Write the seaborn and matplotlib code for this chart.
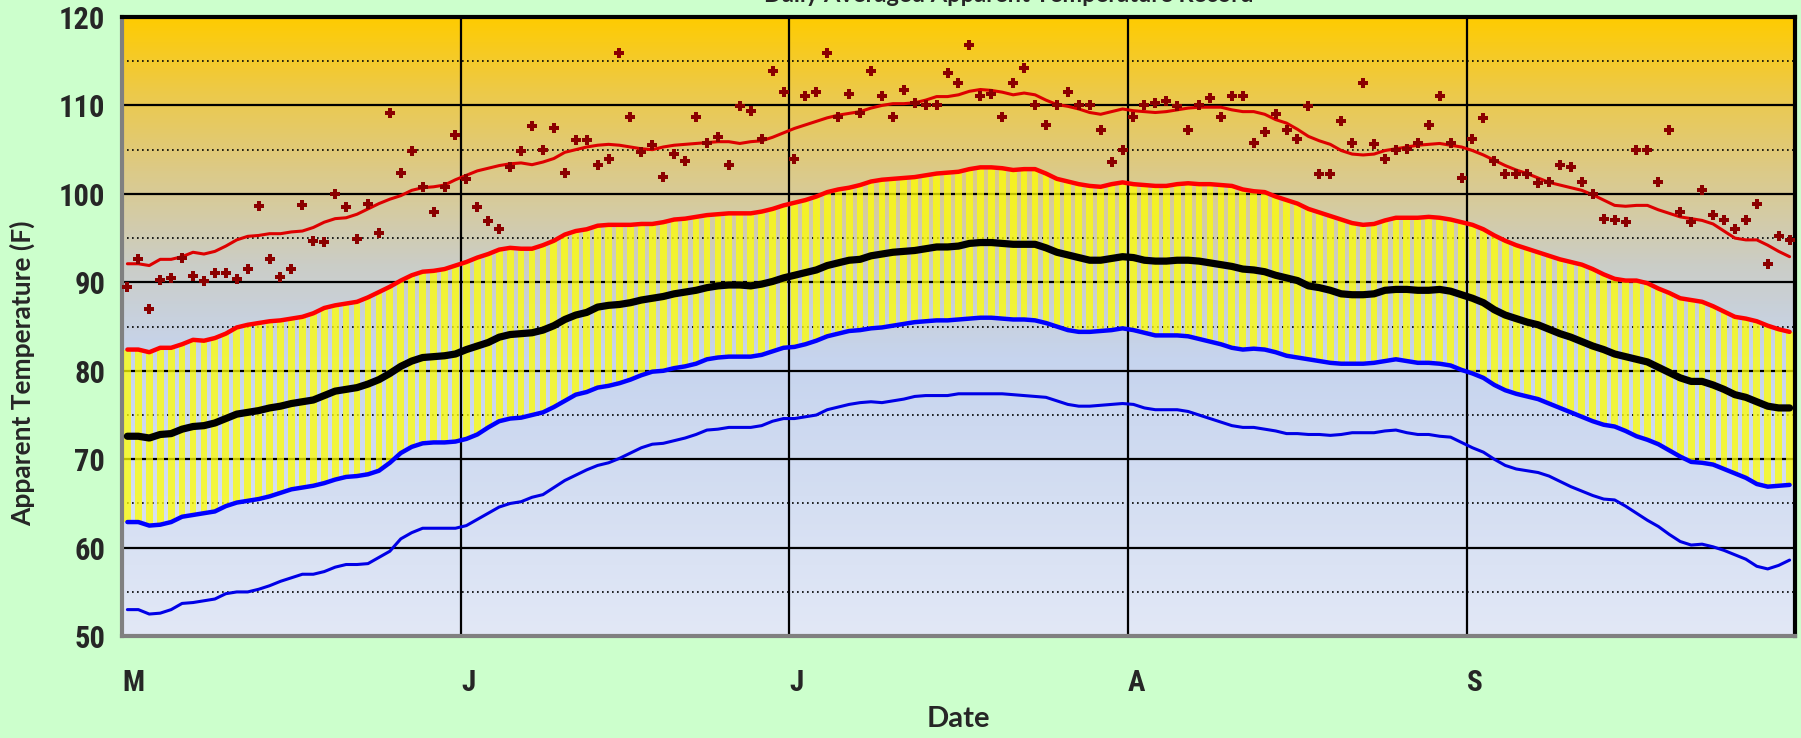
import numpy as np
import pandas as pd
import seaborn as sns
import matplotlib.pyplot as plt
from matplotlib import font_manager
from matplotlib.colors import LinearSegmentedColormap
from matplotlib.ticker import MultipleLocator

# daily values, 1 May .. 30 Sep (153 days)
avg_high = [82.4, 82.4, 82.1, 82.6, 82.6, 83.0, 83.5, 83.4, 83.7, 84.2, 84.9, 85.2, 85.4, 85.6, 85.7, 85.9, 86.1, 86.5, 87.1, 87.4,
            87.6, 87.8, 88.3, 88.9, 89.5, 90.2, 90.8, 91.2, 91.3, 91.5, 91.9, 92.3, 92.8, 93.2, 93.7, 93.9, 93.8, 93.8, 94.2, 94.7,
            95.4, 95.8, 96.0, 96.4, 96.5, 96.5, 96.5, 96.6, 96.6, 96.8, 97.1, 97.2, 97.4, 97.6, 97.7, 97.8, 97.8, 97.8, 98.0, 98.3,
            98.7, 99.0, 99.3, 99.7, 100.2, 100.5, 100.7, 101.0, 101.4, 101.6, 101.7, 101.8, 101.9, 102.1, 102.3, 102.4, 102.5, 102.8, 103.0, 103.0,
            102.9, 102.7, 102.8, 102.8, 102.3, 101.7, 101.4, 101.1, 100.9, 100.8, 101.1, 101.3, 101.1, 101.0, 100.9, 100.9, 101.1, 101.2, 101.1, 101.1,
            101.0, 100.9, 100.5, 100.3, 100.2, 99.7, 99.3, 98.9, 98.3, 97.9, 97.5, 97.1, 96.7, 96.5, 96.6, 97.0, 97.3, 97.3, 97.3, 97.4,
            97.3, 97.1, 96.8, 96.5, 96.0, 95.3, 94.7, 94.2, 93.8, 93.4, 93.0, 92.6, 92.3, 92.0, 91.5, 90.9, 90.4, 90.2, 90.2, 89.9,
            89.3, 88.8, 88.2, 88.0, 87.8, 87.3, 86.7, 86.1, 85.9, 85.6, 85.1, 84.7, 84.4]
avg_mean = [72.6, 72.6, 72.4, 72.8, 72.9, 73.4, 73.7, 73.8, 74.1, 74.6, 75.1, 75.3, 75.5, 75.8, 76.0, 76.3, 76.5, 76.7, 77.2, 77.7,
            77.9, 78.1, 78.5, 79.0, 79.7, 80.5, 81.1, 81.5, 81.6, 81.7, 81.9, 82.4, 82.8, 83.2, 83.8, 84.1, 84.2, 84.3, 84.6, 85.1,
            85.8, 86.3, 86.6, 87.2, 87.4, 87.5, 87.7, 88.0, 88.2, 88.4, 88.7, 88.9, 89.1, 89.4, 89.6, 89.7, 89.7, 89.6, 89.8, 90.1,
            90.5, 90.8, 91.1, 91.4, 91.9, 92.2, 92.5, 92.6, 93.0, 93.2, 93.4, 93.5, 93.6, 93.8, 94.0, 94.0, 94.1, 94.4, 94.5, 94.5,
            94.4, 94.3, 94.3, 94.3, 93.9, 93.4, 93.1, 92.8, 92.5, 92.5, 92.7, 92.9, 92.8, 92.5, 92.4, 92.4, 92.5, 92.5, 92.4, 92.2,
            92.0, 91.8, 91.5, 91.4, 91.2, 90.8, 90.5, 90.2, 89.6, 89.4, 89.1, 88.7, 88.6, 88.6, 88.7, 89.1, 89.2, 89.2, 89.1, 89.1,
            89.2, 89.0, 88.6, 88.2, 87.7, 86.9, 86.3, 85.9, 85.5, 85.2, 84.7, 84.2, 83.8, 83.3, 82.8, 82.4, 81.9, 81.6, 81.3, 81.0,
            80.4, 79.8, 79.2, 78.8, 78.8, 78.4, 77.9, 77.3, 77.0, 76.5, 76.0, 75.8, 75.8]
avg_low = [62.9, 62.9, 62.5, 62.6, 62.9, 63.5, 63.7, 63.9, 64.1, 64.7, 65.1, 65.3, 65.5, 65.8, 66.2, 66.6, 66.8, 67.0, 67.3, 67.7,
           68.0, 68.1, 68.3, 68.7, 69.6, 70.7, 71.4, 71.8, 71.9, 71.9, 72.0, 72.3, 72.8, 73.6, 74.3, 74.6, 74.7, 75.0, 75.3, 75.9,
           76.6, 77.3, 77.6, 78.1, 78.3, 78.6, 79.0, 79.5, 79.9, 80.0, 80.3, 80.5, 80.8, 81.3, 81.5, 81.6, 81.6, 81.6, 81.8, 82.2,
           82.6, 82.7, 83.0, 83.4, 83.9, 84.2, 84.5, 84.6, 84.8, 84.9, 85.1, 85.3, 85.5, 85.6, 85.7, 85.7, 85.8, 85.9, 86.0, 86.0,
           85.9, 85.8, 85.8, 85.7, 85.4, 85.0, 84.6, 84.4, 84.4, 84.5, 84.6, 84.8, 84.6, 84.3, 84.0, 84.0, 84.0, 83.9, 83.6, 83.3,
           83.0, 82.6, 82.4, 82.5, 82.4, 82.1, 81.7, 81.5, 81.3, 81.1, 80.9, 80.8, 80.8, 80.8, 80.9, 81.1, 81.3, 81.1, 80.9, 80.9,
           80.8, 80.6, 80.1, 79.7, 79.2, 78.4, 77.8, 77.4, 77.1, 76.8, 76.3, 75.8, 75.3, 74.8, 74.3, 73.9, 73.7, 73.2, 72.6, 72.2,
           71.7, 71.0, 70.3, 69.7, 69.6, 69.4, 68.9, 68.4, 67.9, 67.2, 66.9, 67.0, 67.1]
min_low = [53.0, 53.0, 52.5, 52.6, 53.0, 53.7, 53.8, 54.0, 54.2, 54.8, 55.0, 55.0, 55.3, 55.7, 56.2, 56.6, 57.0, 57.0, 57.3, 57.8,
           58.1, 58.1, 58.2, 58.9, 59.6, 61.0, 61.7, 62.2, 62.2, 62.2, 62.2, 62.5, 63.2, 63.9, 64.6, 65.0, 65.2, 65.7, 66.0, 66.8,
           67.6, 68.2, 68.8, 69.3, 69.6, 70.1, 70.7, 71.3, 71.7, 71.8, 72.1, 72.4, 72.8, 73.3, 73.4, 73.6, 73.6, 73.6, 73.8, 74.3,
           74.6, 74.6, 74.8, 75.0, 75.6, 75.9, 76.2, 76.4, 76.5, 76.4, 76.6, 76.8, 77.1, 77.2, 77.2, 77.2, 77.4, 77.4, 77.4, 77.4,
           77.4, 77.3, 77.2, 77.1, 77.0, 76.6, 76.2, 76.0, 76.0, 76.1, 76.2, 76.3, 76.2, 75.8, 75.6, 75.6, 75.6, 75.4, 75.0, 74.6,
           74.2, 73.8, 73.6, 73.6, 73.4, 73.2, 72.9, 72.9, 72.8, 72.8, 72.7, 72.8, 73.0, 73.0, 73.0, 73.2, 73.3, 73.0, 72.8, 72.8,
           72.6, 72.5, 71.9, 71.3, 70.8, 70.0, 69.3, 68.9, 68.7, 68.5, 68.1, 67.5, 66.9, 66.4, 65.9, 65.5, 65.4, 64.7, 63.9, 63.1,
           62.4, 61.5, 60.7, 60.3, 60.4, 60.1, 59.7, 59.2, 58.7, 57.9, 57.6, 58.0, 58.6]
max_high = [92.1, 92.1, 91.9, 92.6, 92.6, 92.9, 93.4, 93.2, 93.5, 94.1, 94.8, 95.2, 95.3, 95.5, 95.5, 95.7, 95.8, 96.2, 96.8, 97.2,
            97.3, 97.7, 98.3, 98.9, 99.4, 99.8, 100.4, 100.7, 100.8, 101.0, 101.6, 102.1, 102.6, 102.9, 103.2, 103.4, 103.5, 103.3, 103.6, 104.0,
            104.7, 105.0, 105.3, 105.5, 105.6, 105.5, 105.3, 105.1, 105.0, 105.3, 105.5, 105.6, 105.7, 105.8, 105.9, 105.9, 105.7, 105.9, 106.0, 106.4,
            106.9, 107.4, 107.8, 108.2, 108.6, 108.9, 109.1, 109.3, 109.7, 110.0, 110.2, 110.2, 110.3, 110.6, 111.0, 111.0, 111.2, 111.6, 111.8, 111.7,
            111.5, 111.2, 111.4, 111.2, 110.6, 110.1, 109.9, 109.6, 109.2, 109.0, 109.3, 109.6, 109.4, 109.3, 109.2, 109.3, 109.5, 109.7, 109.8, 109.8,
            109.8, 109.5, 109.3, 109.3, 109.0, 108.4, 108.0, 107.3, 106.5, 106.0, 105.6, 104.9, 104.5, 104.4, 104.5, 104.9, 105.1, 105.3, 105.5, 105.6,
            105.7, 105.5, 105.3, 104.9, 104.4, 103.8, 103.2, 102.7, 102.3, 101.8, 101.3, 101.0, 100.7, 100.4, 99.9, 99.3, 98.7, 98.6, 98.7, 98.7,
            98.2, 97.8, 97.4, 97.2, 97.0, 96.6, 95.8, 95.0, 94.8, 94.8, 94.2, 93.5, 92.9]
record_high = [89.5, 92.6, 87.0, 90.3, 90.5, 92.8, 90.7, 90.2, 91.1, 91.1, 90.4, 91.5, 98.6, 92.6, 90.6, 91.5, 98.7, 94.7, 94.6, 100.0,
               98.5, 94.9, 98.8, 95.6, 109.1, 102.4, 104.8, 100.8, 97.9, 100.8, 106.7, 101.7, 98.5, 96.9, 96.0, 103.0, 104.8, 107.7, 105.0, 107.5,
               102.4, 106.1, 106.1, 103.3, 104.0, 115.9, 108.7, 104.7, 105.5, 101.9, 104.5, 103.7, 108.7, 105.7, 106.4, 103.3, 109.9, 109.4, 106.2, 113.9,
               111.5, 103.9, 111.1, 111.5, 115.9, 108.7, 111.3, 109.1, 113.9, 111.1, 108.7, 111.7, 110.3, 110.1, 110.1, 113.7, 112.5, 116.8, 111.1, 111.3,
               108.7, 112.5, 114.2, 110.1, 107.8, 110.0, 111.5, 110.1, 110.1, 107.2, 103.6, 105.0, 108.7, 110.0, 110.3, 110.5, 109.9, 107.2, 110.0, 110.8,
               108.7, 111.1, 111.1, 105.7, 107.0, 109.0, 107.2, 106.2, 109.9, 102.3, 102.3, 108.2, 105.8, 112.5, 105.6, 104.0, 105.0, 105.1, 105.8, 107.8,
               111.1, 105.8, 101.8, 106.2, 108.6, 103.7, 102.3, 102.3, 102.2, 101.2, 101.3, 103.3, 103.0, 101.3, 100.0, 97.2, 97.1, 96.8, 105.0, 105.0,
               101.3, 107.2, 97.9, 96.8, 100.4, 97.6, 97.0, 96.0, 97.0, 98.8, 92.1, 95.2, 94.8]

month_starts = [0, 31, 61, 92, 123, 153]
month_labels = ["M", "J", "J", "A", "S", ""]
temp_ticks = [50, 60, 70, 80, 90, 100, 110, 120]

df = pd.DataFrame({
    "day": np.arange(len(avg_mean)) + 0.5,
    "high": avg_high, "mean": avg_mean, "low": avg_low,
    "min_low": min_low, "max_high": max_high, "record": record_high,
})

sns.set_style("white")
plt.rcParams["font.family"] = ["Lato", "DejaVu Sans"]

# narrow bold face for the tick labels, if one is installed
installed = {f.name for f in font_manager.fontManager.ttflist}
narrow = {"family": "DejaVu Sans", "stretch": "condensed"}
for cand in ["Liberation Sans Narrow", "Roboto Condensed", "Open Sans Condensed"]:
    if cand in installed:
        narrow = {"family": cand}
        break

fig = plt.figure(figsize=(18.01, 7.38), dpi=100, facecolor="#CCFFCC")
ax = fig.add_axes([0.0677, 0.138, 0.929, 0.839])

# gradient background of the plot area
grad_cmap = LinearSegmentedColormap.from_list(
    "bg", [(0.0, "#E2E8F6"), (0.45, "#C6D4EE"), (0.6, "#CBCDC6"),
           (0.75, "#DCCA88"), (0.88, "#EDC948"), (1.0, "#FFCC00")])
ax.imshow(np.linspace(0, 1, 256).reshape(-1, 1), extent=[0, 153, 50, 120],
          aspect="auto", origin="lower", cmap=grad_cmap, zorder=0)

# daily range bars
ax.bar(df["day"], df["high"] - df["low"], bottom=df["low"], width=0.62,
       color="#FFFF00", alpha=0.75, linewidth=0, zorder=1)

sns.lineplot(data=df, x="day", y="min_low", color="#0000E6", lw=2.2, ax=ax, zorder=3)
sns.lineplot(data=df, x="day", y="low", color="#0000FF", lw=3.2, ax=ax, zorder=3)
sns.lineplot(data=df, x="day", y="high", color="#FF0000", lw=3.2, ax=ax, zorder=3)
sns.lineplot(data=df, x="day", y="max_high", color="#DD0000", lw=2.2, ax=ax, zorder=3)
sns.lineplot(data=df, x="day", y="mean", color="black", lw=5.2, ax=ax, zorder=4)
sns.scatterplot(data=df, x="day", y="record", marker="P", s=60, color="#8B0000",
                linewidth=0, ax=ax, zorder=5)

ax.set_xlim(0, 153)
ax.set_ylim(50, 120)

ax.set_xticks(month_starts)
ax.set_xticklabels(month_labels, ha="left", fontsize=21, fontweight="bold", **narrow)
ax.set_yticks(temp_ticks)
ax.set_yticklabels([str(t) for t in temp_ticks], fontsize=22, fontweight="bold", **narrow)
ax.yaxis.set_minor_locator(MultipleLocator(5))

ax.set_axisbelow(True)
ax.grid(which="major", axis="y", color="black", lw=1.6, ls="-")
ax.grid(which="minor", axis="y", color="black", lw=1.2, ls=(0, (1, 2)))
ax.grid(which="major", axis="x", color="black", lw=1.6, ls="-")

ax.tick_params(axis="both", which="major", direction="out", length=6, width=2,
               color="#808080", pad=6)
ax.tick_params(axis="x", pad=18)
ax.tick_params(which="minor", length=0)

for side in ["top", "right"]:
    ax.spines[side].set_color("black")
    ax.spines[side].set_linewidth(3)
for side in ["left", "bottom"]:
    ax.spines[side].set_color("#808080")
    ax.spines[side].set_linewidth(3)

ax.set_xlabel("Date", fontsize=21, fontweight="bold", labelpad=6)
ax.set_ylabel("Apparent Temperature (F)", fontsize=19, fontweight="bold")
ax.yaxis.set_label_coords(-0.052, 0.425)

# title sits mostly above the top edge, as in the original
fig.text(0.56, 1 - 2 / 738, "Daily Averaged Apparent Temperature Record", ha="center",
         va="baseline", fontsize=17, fontweight="bold")

fig.savefig("out.png", dpi=100, facecolor=fig.get_facecolor())
